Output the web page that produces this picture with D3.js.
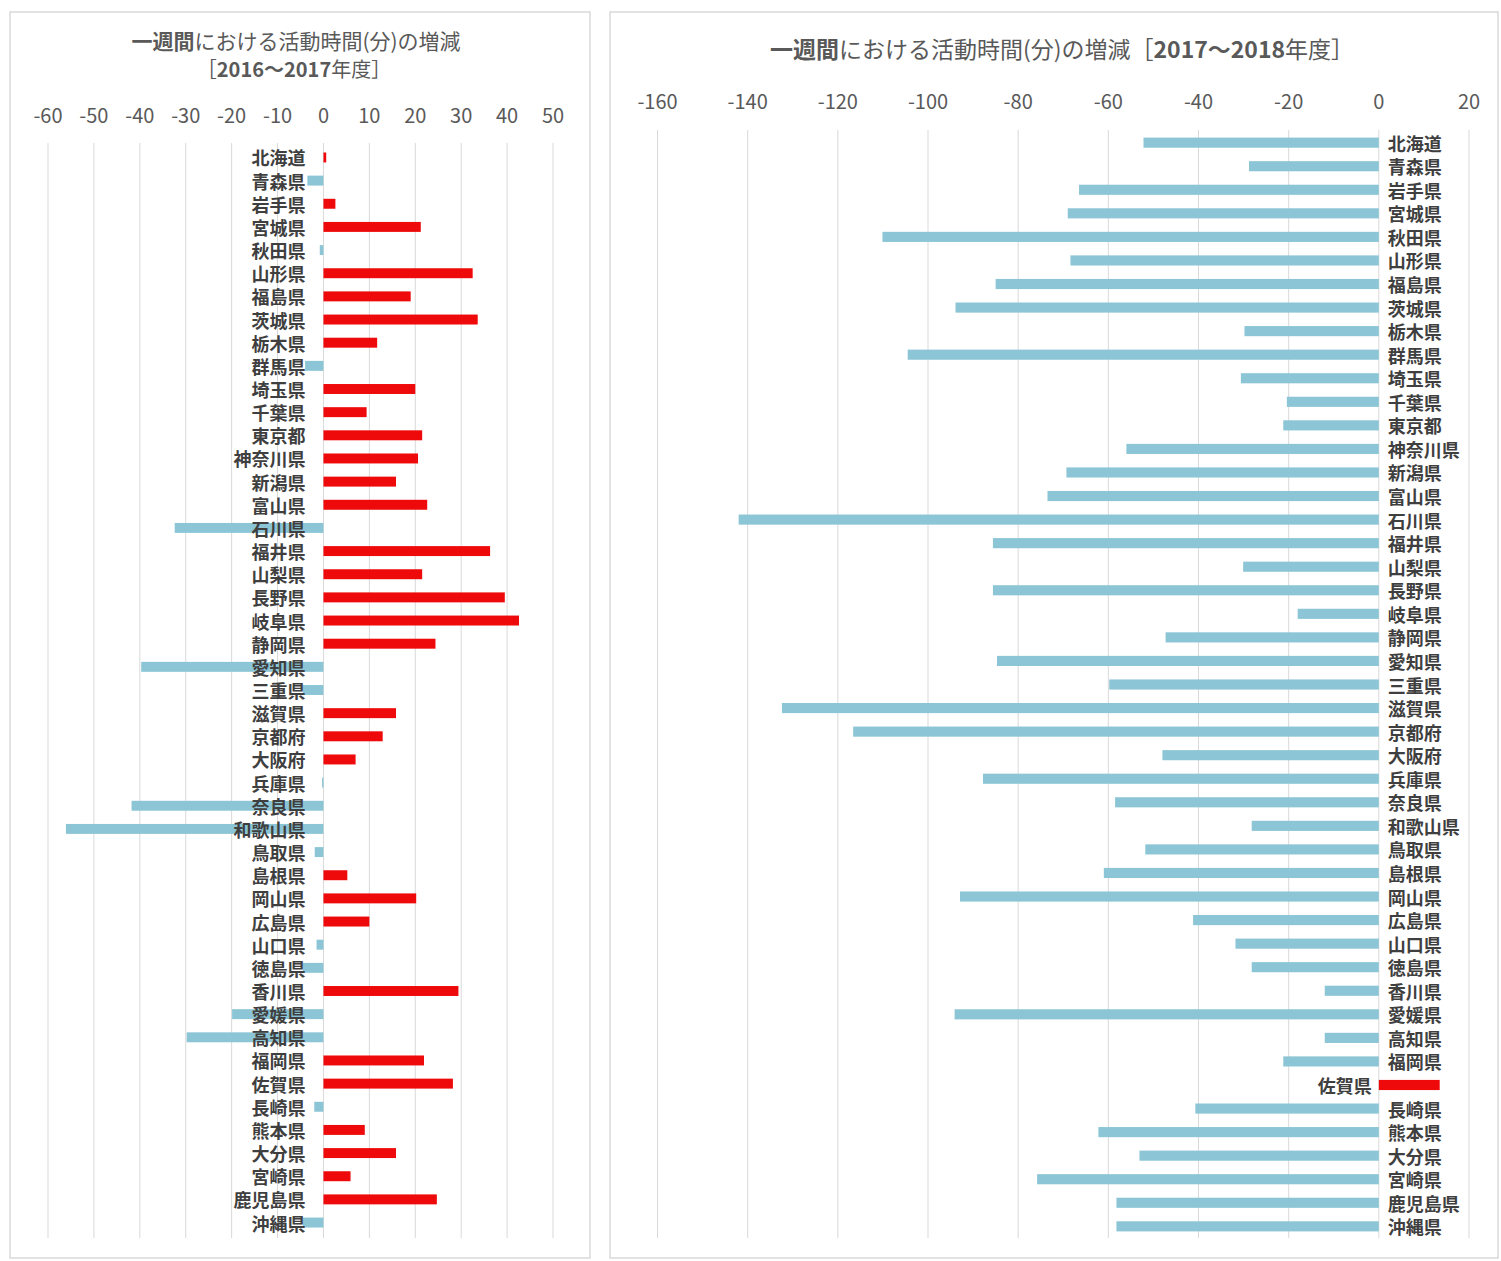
<!DOCTYPE html>
<html>
<head>
<meta charset="utf-8">
<script src="https://cdn.jsdelivr.net/npm/d3@7"></script>
<style>
	body { margin: 0; background: #fff; }
	text { font-family: "Noto Sans CJK JP", "Noto Sans", sans-serif; }
</style>
</head>
<body>
<svg id="chart" width="1501" height="1261"></svg>
<script>
const prefectures = [
	'北海道', '青森県', '岩手県', '宮城県', '秋田県', '山形県', '福島県', '茨城県', '栃木県', '群馬県',
	'埼玉県', '千葉県', '東京都', '神奈川県', '新潟県', '富山県', '石川県', '福井県', '山梨県', '長野県',
	'岐阜県', '静岡県', '愛知県', '三重県', '滋賀県', '京都府', '大阪府', '兵庫県', '奈良県', '和歌山県',
	'鳥取県', '島根県', '岡山県', '広島県', '山口県', '徳島県', '香川県', '愛媛県', '高知県', '福岡県',
	'佐賀県', '長崎県', '熊本県', '大分県', '宮崎県', '鹿児島県', '沖縄県'
];

// 2016〜2017年度 の増減（分）
const change2016_2017 = [
	0.6, -3.5, 2.6, 21.2, -0.8, 32.5, 19.0, 33.6, 11.7, -4.0,
	20.0, 9.4, 21.5, 20.6, 15.8, 22.6, -32.4, 36.3, 21.5, 39.5,
	42.6, 24.4, -39.7, -4.5, 15.8, 12.9, 7.0, -0.3, -41.8, -56.1,
	-1.9, 5.2, 20.2, 10.0, -1.5, -4.5, 29.4, -19.9, -29.8, 21.9,
	28.2, -2.0, 9.0, 15.8, 5.9, 24.7, -4.5
];

// 2017〜2018年度 の増減（分）
const change2017_2018 = [
	-52.2, -28.8, -66.5, -69.0, -110.1, -68.4, -85.0, -93.9, -29.8, -104.5,
	-30.6, -20.4, -21.2, -56.0, -69.3, -73.5, -142.0, -85.6, -30.1, -85.6,
	-18.0, -47.3, -84.7, -59.8, -132.4, -116.6, -48.0, -87.8, -58.5, -28.2,
	-51.8, -61.0, -92.9, -41.2, -31.8, -28.2, -12.0, -94.1, -12.0, -21.2,
	13.5, -40.7, -62.2, -53.1, -75.8, -58.2, -58.2
];

const ticksLeft = [-60, -50, -40, -30, -20, -10, 0, 10, 20, 30, 40, 50];
const ticksRight = [-160, -140, -120, -100, -80, -60, -40, -20, 0, 20];

const RED = '#ee0a0a';
const BLUE = '#8cc6d6';
const GRID = '#d9d9d9';
const TEXT = '#595959';

const svg = d3.select('#chart');

function drawPanel(opts) {
	const g = svg.append('g');

	g.append('rect')
		.attr('x', opts.box[0]).attr('y', opts.box[1])
		.attr('width', opts.box[2]).attr('height', opts.box[3])
		.attr('fill', '#fff')
		.attr('stroke', GRID)
		.attr('stroke-width', 1.5);

	const x = d3.scaleLinear().domain(opts.domain).range(opts.xRange);
	const y = d3.scaleBand().domain(prefectures).range(opts.yRange).paddingInner(0.57).paddingOuter(0.28);

	// title
	opts.title.forEach(line => {
		const t = g.append('text')
			.attr('x', line.x).attr('y', line.y)
			.attr('text-anchor', 'middle')
			.attr('font-size', line.size)
			.attr('fill', TEXT);
		line.parts.forEach(p => {
			t.append('tspan').attr('font-weight', p.bold ? 700 : 400).text(p.text);
		});
	});

	// gridlines + top tick labels
	g.append('g')
		.selectAll('line')
		.data(opts.ticks)
		.join('line')
		.attr('x1', d => x(d)).attr('x2', d => x(d))
		.attr('y1', opts.gridY[0]).attr('y2', opts.gridY[1])
		.attr('stroke', GRID)
		.attr('stroke-width', 1);

	g.append('g')
		.selectAll('text')
		.data(opts.ticks)
		.join('text')
		.attr('x', d => x(d))
		.attr('y', opts.tickY)
		.attr('text-anchor', 'middle')
		.attr('dominant-baseline', 'central')
		.attr('font-family', '"Noto Sans", sans-serif')
		.attr('font-size', 20)
		.attr('fill', TEXT)
		.text(d => d);

	const rows = prefectures.map((name, i) => ({name, value: opts.values[i]}));

	g.append('g')
		.selectAll('rect')
		.data(rows)
		.join('rect')
		.attr('x', d => x(Math.min(0, d.value)))
		.attr('width', d => Math.abs(x(d.value) - x(0)))
		.attr('y', d => y(d.name))
		.attr('height', y.bandwidth())
		.attr('fill', d => d.value >= 0 ? RED : BLUE);

	g.append('g')
		.selectAll('text')
		.data(rows)
		.join('text')
		.attr('x', d => opts.labelX(d, x))
		.attr('y', d => y(d.name) + y.bandwidth() / 2)
		.attr('text-anchor', d => opts.labelAnchor(d))
		.attr('dominant-baseline', 'central')
		.attr('font-size', 18)
		.attr('font-weight', 700)
		.attr('fill', '#3f3f3f')
		.text(d => d.name);
}

drawPanel({
	box: [10, 12, 580, 1246],
	domain: [-60, 50],
	xRange: [48, 553],
	yRange: [146, 1234],
	gridY: [143, 1238],
	tickY: 114,
	ticks: ticksLeft,
	values: change2016_2017,
	title: [
		{x: 296, y: 49, size: 21, parts: [{text: '一週間', bold: true}, {text: 'における活動時間(分)の増減'}]},
		{x: 294, y: 77, size: 20, parts: [{text: '［'}, {text: '2016～2017', bold: true}, {text: '年度］'}]}
	],
	labelX: (d, x) => x(0) - 18,
	labelAnchor: d => 'end'
});

drawPanel({
	box: [610, 12, 888, 1246],
	domain: [-160, 20],
	xRange: [657.5, 1469],
	yRange: [131, 1238],
	gridY: [130, 1238],
	tickY: 100,
	ticks: ticksRight,
	values: change2017_2018,
	title: [
		{x: 1062, y: 58, size: 23, parts: [{text: '一週間', bold: true}, {text: 'における活動時間(分)の増減［'}, {text: '2017～2018', bold: true}, {text: '年度］'}]}
	],
	labelX: (d, x) => d.value >= 0 ? x(0) - 7 : x(0) + 9,
	labelAnchor: d => d.value >= 0 ? 'end' : 'start'
});
</script>
</body>
</html>
